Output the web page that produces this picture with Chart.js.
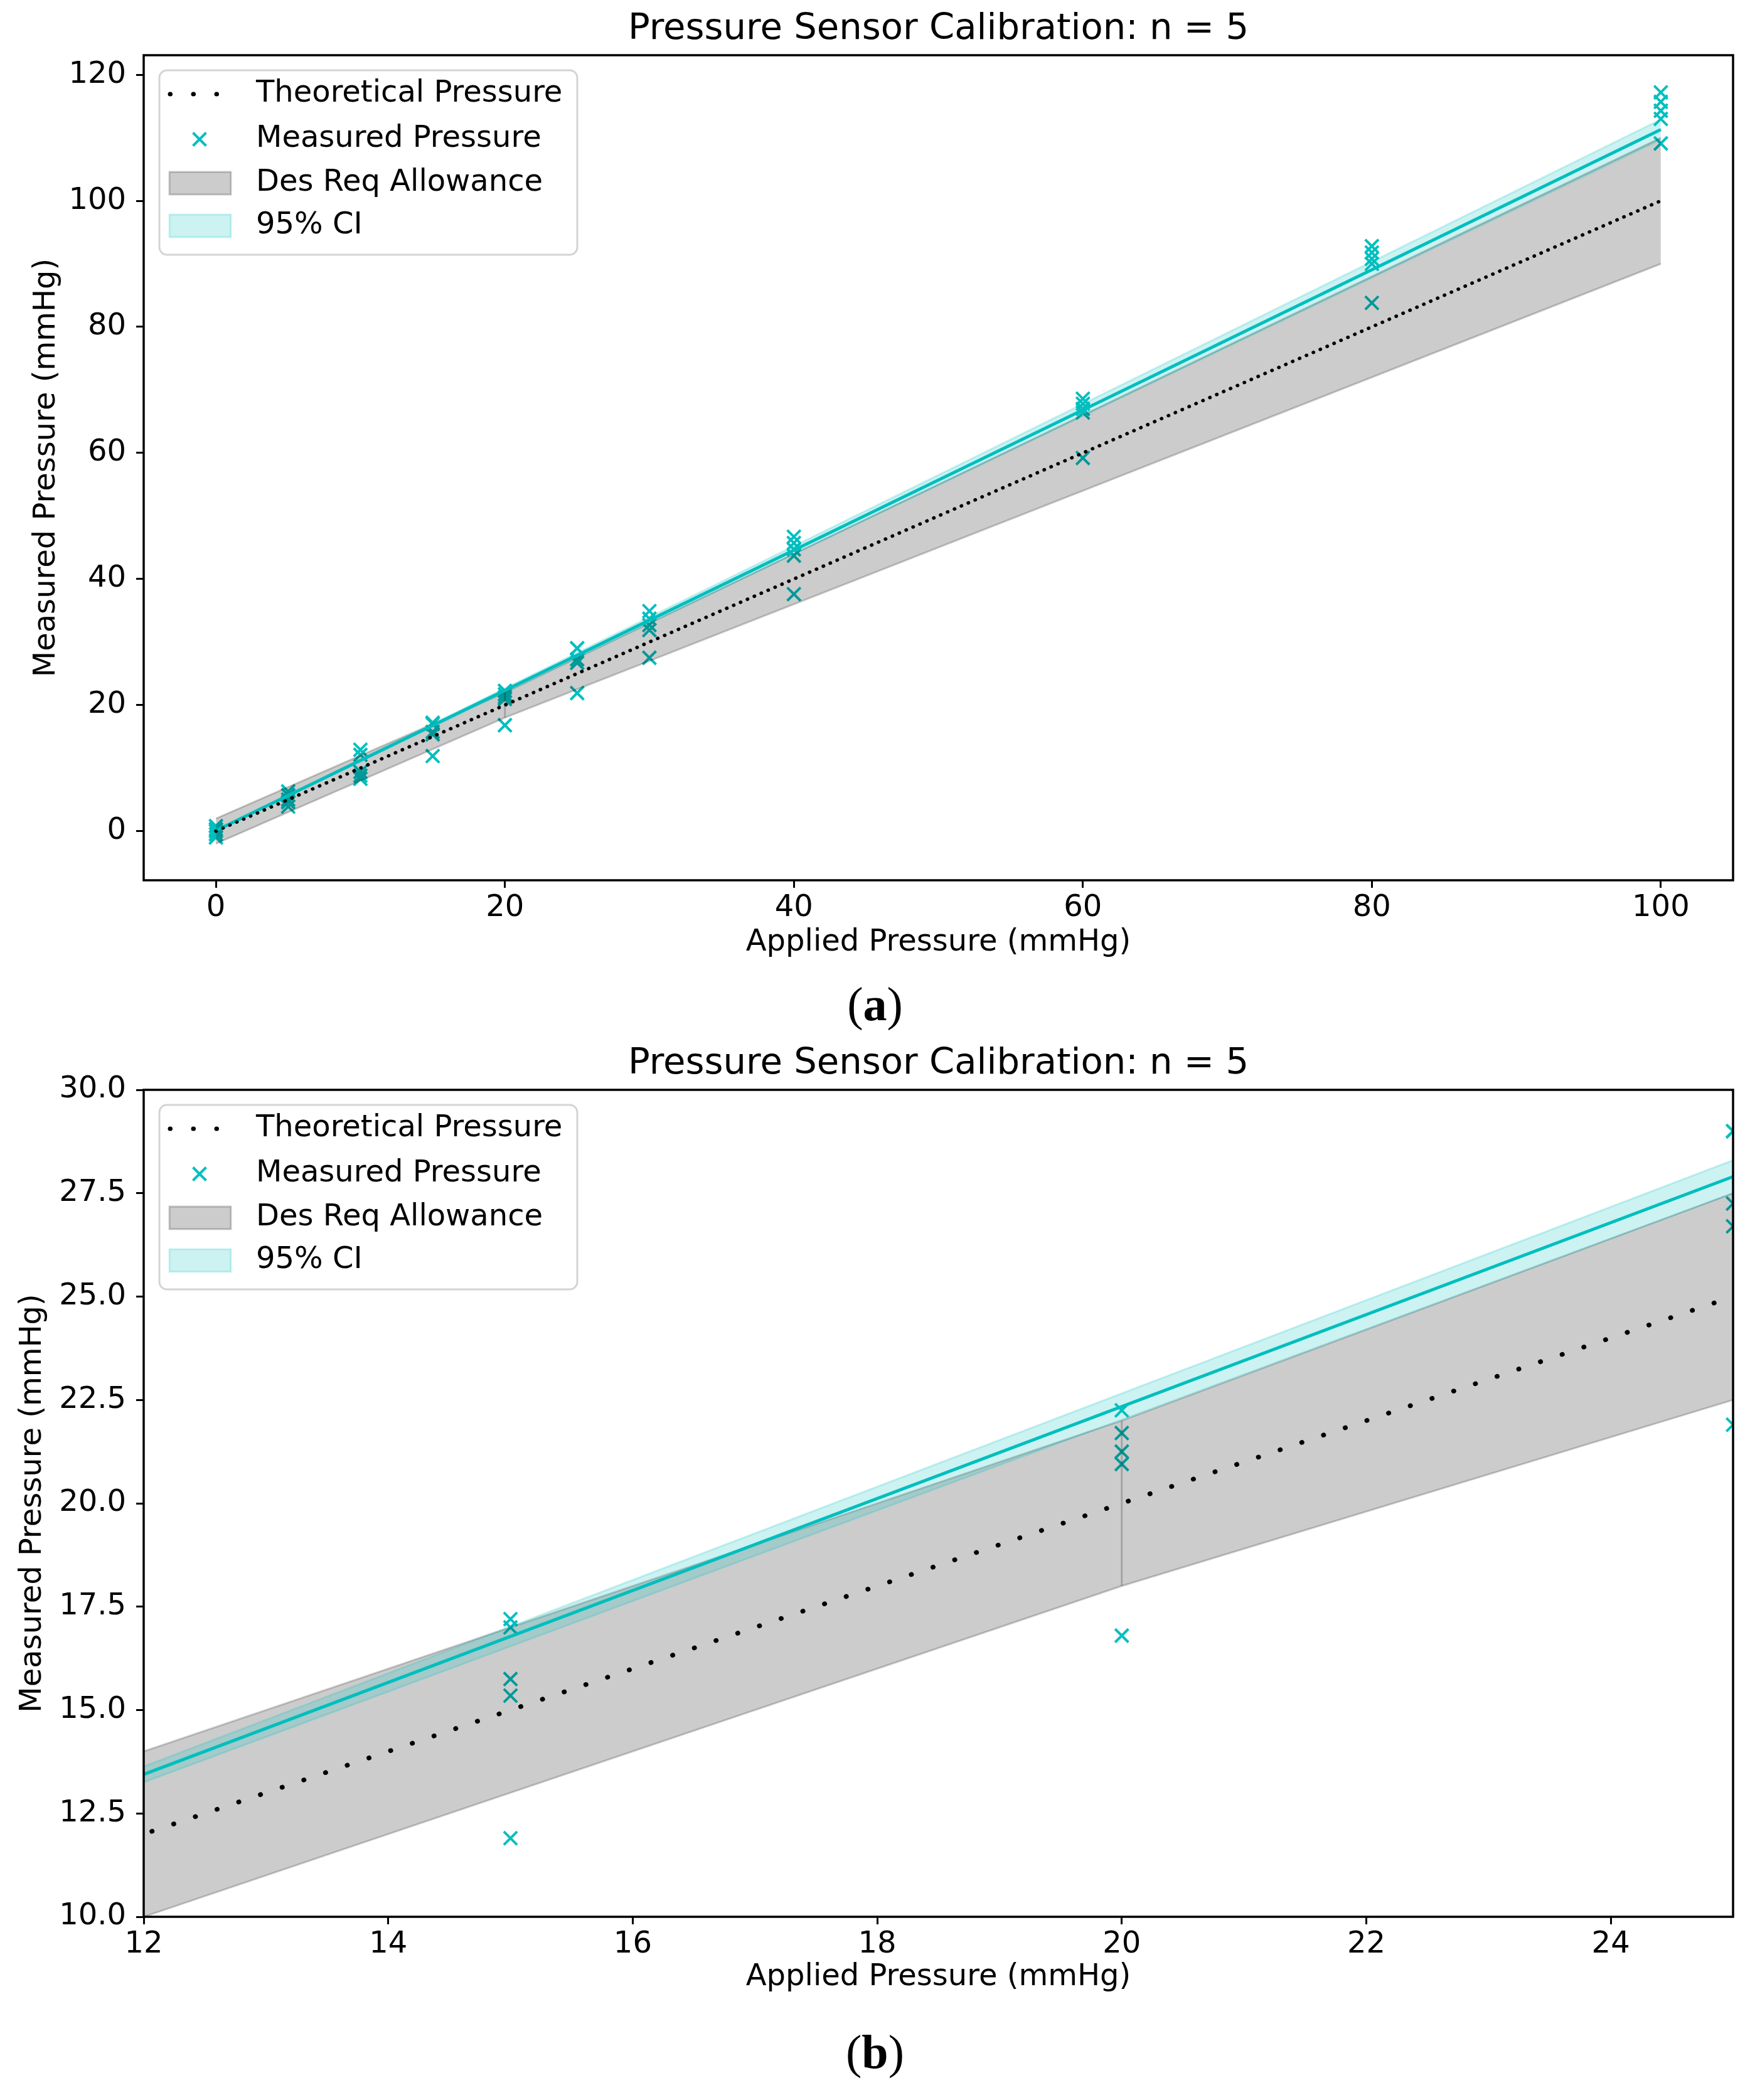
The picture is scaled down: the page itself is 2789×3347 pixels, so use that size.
<!DOCTYPE html>
<html>
<head>
<meta charset="utf-8">
<script src="https://cdn.jsdelivr.net/npm/chart.js@4.4.1/dist/chart.umd.min.js"></script>
<style>
html, body { margin: 0; padding: 0; background: #fff; }
body { width: 2789px; height: 3347px; position: relative; overflow: hidden; }
canvas { position: absolute; left: 0; }
#chartA { top: 0; }
#chartB { top: 1649px; }
.panel { position: absolute; left: 0; width: 2789px; text-align: center;
  font-family: 'Liberation Serif', serif; font-size: 76px; line-height: 76px; color: #000; }
</style>
</head>
<body>
<canvas id="chartA" width="2789" height="1560"></canvas>
<canvas id="chartB" width="2789" height="1560"></canvas>
<div class="panel" style="top:1562px">(<b>a</b>)</div>
<div class="panel" style="top:3232px">(<b>b</b>)</div>
<script>
// applied pressure levels and the 5 readings at each level (mmHg)
const appliedLevels = [0, 5, 10, 15, 20, 25, 30, 40, 60, 80, 100]
const measuredByLevel = [
    [0.8, 0.3, 0.0, -0.5, -1.0],
    [6.3, 5.7, 5.0, 4.6, 3.9],
    [12.9, 12.1, 9.4, 8.8, 8.3],
    [17.2, 17.0, 15.75, 15.35, 11.9],
    [22.25, 21.7, 21.25, 20.95, 16.8],
    [29.0, 29.0, 27.25, 26.7, 21.9],
    [34.9, 33.7, 32.7, 31.9, 27.5],
    [46.7, 45.7, 44.7, 43.7, 37.6],
    [68.6, 67.8, 67.0, 66.4, 59.2],
    [92.8, 91.8, 90.8, 90.0, 83.8],
    [117.2, 115.7, 114.3, 113.0, 109.1]
]

// theoretical line
const theoryX = [0, 100]
const theoryY = [0, 100]

// design requirement allowance (+-2 below 20, +-10% above)
const allowX = [0, 20, 100]
const allowLow = [-2, 18, 90]
const allowHigh = [2, 22, 110]
const allowStepX = [20, 20]
const allowStepY = [18, 22]

// fitted line and its 95% CI
const fitX = [0, 100]
const fitY = [0.1, 111.3]
const ciX = [0, 100]
const ciLow = [0.1, 109.7]
const ciHigh = [0.1, 112.9]

// ticks
const xTicksA = [0, 20, 40, 60, 80, 100]
const yTicksA = [0, 20, 40, 60, 80, 100, 120]
const xTicksB = [12, 14, 16, 18, 20, 22, 24]
const yTicksB = [10, 12.5, 15, 17.5, 20, 22.5, 25, 27.5, 30]

const legendLabels = ['Theoretical Pressure', 'Measured Pressure', 'Des Req Allowance', '95% CI']

const CYAN = '#00bfbf'
const GREY = 'rgba(0,0,0,0.2)'
const CYAN_A = 'rgba(0,191,191,0.2)'

Chart.defaults.font.family = "'DejaVu Sans', sans-serif"
Chart.defaults.font.size = 48
Chart.defaults.color = '#000'

const xy = (xs, ys) => xs.map((x, i) => ({ x: x, y: ys[i] }))
const measuredPts = []
appliedLevels.forEach((x, i) => measuredByLevel[i].forEach(y => measuredPts.push({ x: x, y: y })))

// box round the plot area
const framePlugin = {
    id: 'frame',
    afterDraw(chart) {
        const a = chart.chartArea, ctx = chart.ctx
        ctx.save()
        ctx.strokeStyle = '#000'
        ctx.lineWidth = 3.5
        ctx.strokeRect(a.left, a.top, a.right - a.left, a.bottom - a.top)
        ctx.restore()
    }
}

// matplotlib-like legend inside the axes
const boxLegend = {
    id: 'boxLegend',
    afterDatasetsDraw(chart, args, opts) {
        const a = chart.chartArea, ctx = chart.ctx
        const x0 = a.left + 25, y0 = a.top + 24
        const rows = [38, 110, 180, 248]
        ctx.save()
        ctx.beginPath()
        ctx.roundRect(x0, y0, 666, 294, 12)
        ctx.fillStyle = 'rgba(255,255,255,0.8)'
        ctx.fill()
        ctx.strokeStyle = '#d4d4d4'
        ctx.lineWidth = 3
        ctx.stroke()

        // dotted line
        let y = y0 + rows[0]
        ctx.strokeStyle = '#000'
        ctx.lineWidth = 7
        ctx.lineCap = 'round'
        ctx.setLineDash([0.5, 36.5])
        ctx.beginPath()
        ctx.moveTo(x0 + 17, y)
        ctx.lineTo(x0 + 115, y)
        ctx.stroke()
        ctx.setLineDash([])

        // x marker
        y = y0 + rows[1]
        const cx = x0 + 64, r = 10.5
        ctx.strokeStyle = CYAN
        ctx.lineWidth = 4
        ctx.lineCap = 'butt'
        ctx.beginPath()
        ctx.moveTo(cx - r, y - r); ctx.lineTo(cx + r, y + r)
        ctx.moveTo(cx - r, y + r); ctx.lineTo(cx + r, y - r)
        ctx.stroke()

        // patches
        ;[[GREY, rows[2]], [CYAN_A, rows[3]]].forEach(p => {
            ctx.fillStyle = p[0]
            ctx.strokeStyle = p[0]
            ctx.lineWidth = 3
            ctx.fillRect(x0 + 16, y0 + p[1] - 18, 98, 36)
            ctx.strokeRect(x0 + 16, y0 + p[1] - 18, 98, 36)
        })

        ctx.fillStyle = '#000'
        ctx.font = "48px 'DejaVu Sans'"
        ctx.textBaseline = 'middle'
        opts.labels.forEach((t, i) => ctx.fillText(t, x0 + 154, y0 + rows[i]))
        ctx.restore()
    }
}

function buildChart(id, o) {
    const tickGrid = { drawOnChartArea: false, drawTicks: true, tickLength: 12, tickWidth: 3, tickColor: '#000' }
    return new Chart(document.getElementById(id), {
        type: 'line',
        data: {
            datasets: [
                { label: 'Theoretical Pressure', data: xy(theoryX, theoryY), borderColor: '#000',
                  borderWidth: o.dotW, borderDash: o.dotDash, borderCapStyle: 'round', pointRadius: 0, order: 1 },
                { label: 'Measured Pressure', data: measuredPts, showLine: false, pointStyle: 'crossRot',
                  pointRadius: 15, pointBorderWidth: 4, pointBorderColor: CYAN, pointBackgroundColor: CYAN, order: 5 },
                { label: 'allowLow', data: xy(allowX, allowLow), borderColor: GREY, borderWidth: 3, pointRadius: 0, order: 4 },
                { label: 'Des Req Allowance', data: xy(allowX, allowHigh), borderColor: GREY, borderWidth: 3,
                  pointRadius: 0, fill: '-1', backgroundColor: GREY, order: 4 },
                { label: 'allowStep', data: xy(allowStepX, allowStepY), borderColor: GREY, borderWidth: 3, pointRadius: 0, order: 4 },
                { label: 'Fit', data: xy(fitX, fitY), borderColor: CYAN, borderWidth: 5, pointRadius: 0, order: 2 },
                { label: 'ciLow', data: xy(ciX, ciLow), borderColor: CYAN_A, borderWidth: 3, pointRadius: 0, order: 0 },
                { label: '95% CI', data: xy(ciX, ciHigh), borderColor: CYAN_A, borderWidth: 3, pointRadius: 0,
                  fill: '-1', backgroundColor: CYAN_A, order: 0 }
            ].map(d => Object.assign({ clip: 0, tension: 0 }, d))
        },
        options: {
            responsive: false,
            animation: false,
            events: [],
            layout: { padding: { left: 0, right: 27, top: 0, bottom: 0 } },
            plugins: {
                legend: { display: false },
                tooltip: { enabled: false },
                title: { display: true, fullSize: false, text: 'Pressure Sensor Calibration: n = 5', color: '#000',
                         font: { size: 57.6, weight: 'normal', lineHeight: 1.2 }, padding: { top: 12, bottom: 6.88 } },
                boxLegend: { labels: legendLabels }
            },
            scales: {
                x: {
                    type: 'linear', min: o.xr[0], max: o.xr[1],
                    afterBuildTicks: s => { s.ticks = o.xt.map(v => ({ value: v })) },
                    afterFit: s => { s.height = o.xh },
                    grid: tickGrid,
                    border: { display: false },
                    ticks: { padding: 4, color: '#000', maxRotation: 0, autoSkip: false },
                    title: { display: true, text: 'Applied Pressure (mmHg)', color: '#000', padding: { top: 29, bottom: 29 } }
                },
                y: {
                    type: 'linear', min: o.yr[0], max: o.yr[1],
                    afterBuildTicks: s => { s.ticks = o.yt.map(v => ({ value: v })) },
                    afterFit: s => { s.width = 229 },
                    grid: tickGrid,
                    border: { display: false },
                    ticks: { padding: 16, color: '#000', autoSkip: false, callback: v => o.fmt(v) },
                    title: { display: true, text: 'Measured Pressure (mmHg)', color: '#000', padding: { top: o.yPad, bottom: o.yPad } }
                }
            }
        },
        plugins: [framePlugin, boxLegend]
    })
}

buildChart('chartA', { xr: [-5, 105], yr: [-7.8, 123.1], xt: xTicksA, yt: yTicksA, xh: 157, yPad: 46,
    fmt: v => String(v), dotW: 5.5, dotDash: [0.5, 11.5] })
buildChart('chartB', { xr: [12, 25], yr: [10, 30], xt: xTicksB, yt: yTicksB, xh: 154, yPad: 24,
    fmt: v => v.toFixed(1), dotW: 7.5, dotDash: [0.5, 36] })
</script>
</body>
</html>
